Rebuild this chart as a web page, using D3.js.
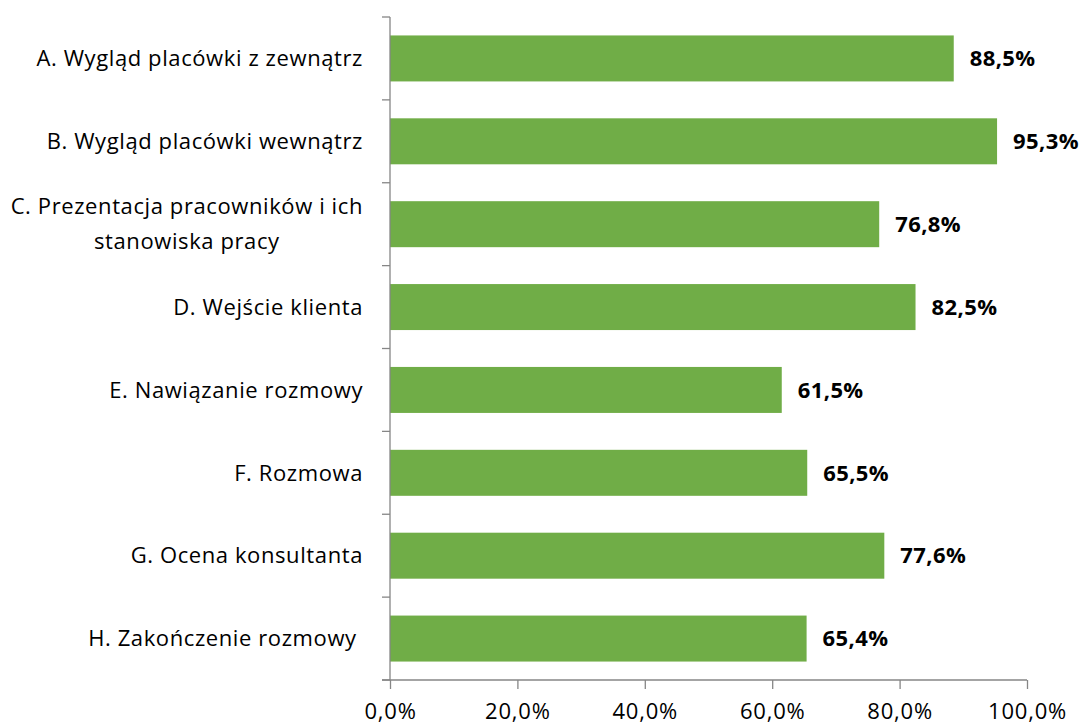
<!DOCTYPE html>
<html>
<head>
<meta charset="utf-8">
<script src="https://cdn.jsdelivr.net/npm/d3@7"></script>
<style>
  html, body { margin: 0; padding: 0; background: #fff; }
  svg text { font-family: "Open Sans", Lato, sans-serif; }
</style>
</head>
<body>
<svg id="chart" width="1081" height="724"></svg>
<script>
// Category labels (lines of each label), values in percent, axis ticks
const categories = [
  ["A. Wygląd placówki z zewnątrz"],
  ["B. Wygląd placówki wewnątrz"],
  ["C. Prezentacja pracowników i ich", "stanowiska pracy"],
  ["D. Wejście klienta"],
  ["E. Nawiązanie rozmowy"],
  ["F. Rozmowa"],
  ["G. Ocena konsultanta"],
  ["H. Zakończenie rozmowy\u00a0"]
];
const values = [88.5, 95.3, 76.8, 82.5, 61.5, 65.5, 77.6, 65.4];
const xTicks = [0, 20, 40, 60, 80, 100];

const svg = d3.select("#chart");
const plotLeft = 390, plotRight = 1027, plotTop = 17, plotBottom = 680;
const axisColor = "#868686";
const barColor = "#70AD47";
const fontSize = 22;
const fmt = v => v.toFixed(1).replace(".", ",") + "%";

const x = d3.scaleLinear().domain([0, 100]).range([plotLeft, plotRight]);
const y = d3.scaleBand().domain(d3.range(categories.length))
  .range([plotTop, plotBottom]).paddingInner(0.445).paddingOuter(0.2225);

// Bars
svg.append("g").selectAll("rect").data(values).join("rect")
  .attr("x", x(0))
  .attr("y", (d, i) => y(i))
  .attr("width", d => x(d) - x(0))
  .attr("height", y.bandwidth())
  .attr("fill", barColor);

// Value labels
svg.append("g").selectAll("text").data(values).join("text")
  .attr("x", d => x(d) + 16)
  .attr("y", (d, i) => y(i) + y.bandwidth() / 2)
  .attr("dy", "0.35em")
  .attr("font-size", fontSize)
  .attr("font-weight", "bold")
  .attr("letter-spacing", 0.4)
  .attr("fill", "#000")
  .text(d => fmt(d));

// Category axis: line plus tick marks at category boundaries
const gy = svg.append("g");
gy.append("line")
  .attr("x1", plotLeft).attr("x2", plotLeft)
  .attr("y1", plotTop).attr("y2", plotBottom)
  .attr("stroke", axisColor).attr("stroke-width", 1.3);
const step = y.step();
gy.selectAll("line.tick").data(d3.range(categories.length + 1)).join("line")
  .attr("class", "tick")
  .attr("x1", plotLeft - 8).attr("x2", plotLeft)
  .attr("y1", i => plotTop + i * step).attr("y2", i => plotTop + i * step)
  .attr("stroke", axisColor).attr("stroke-width", 1.3);

// Category labels (multi-line labels are centred under their widest line)
const labelRight = 363;
const lineH = 35;
const lg = svg.append("g");
categories.forEach((lines, i) => {
  const cy = y(i) + y.bandwidth() / 2;
  const t = lg.append("text")
    .attr("font-size", fontSize)
    .attr("letter-spacing", 0.6)
    .attr("fill", "#000")
    .style("white-space", "pre");
  lines.forEach((ln, j) => {
    t.append("tspan")
      .attr("y", cy + (j - (lines.length - 1) / 2) * lineH)
      .attr("dy", "0.35em")
      .text(ln);
  });
  if (lines.length === 1) {
    t.attr("text-anchor", "end").selectAll("tspan").attr("x", labelRight);
  } else {
    t.attr("text-anchor", "middle");
    const w = d3.max(t.selectAll("tspan").nodes(), n => n.getComputedTextLength());
    t.selectAll("tspan").attr("x", labelRight - w / 2);
  }
});

// Value axis
const xAxis = d3.axisBottom(x).tickValues(xTicks).tickSize(9).tickPadding(14)
  .tickFormat(d => fmt(d));
const gx = svg.append("g").attr("transform", `translate(0,${plotBottom})`).call(xAxis);
gx.select(".domain").attr("stroke", axisColor).attr("stroke-width", 1.3)
  .attr("d", `M${plotLeft - 8},0H${plotRight}`);
gx.selectAll(".tick line").attr("stroke", axisColor).attr("stroke-width", 1.3);
gx.selectAll(".tick text").attr("font-size", fontSize).attr("fill", "#000")
  .attr("letter-spacing", 0.8)
  .attr("font-family", "'Open Sans', Lato, sans-serif");
</script>
</body>
</html>
